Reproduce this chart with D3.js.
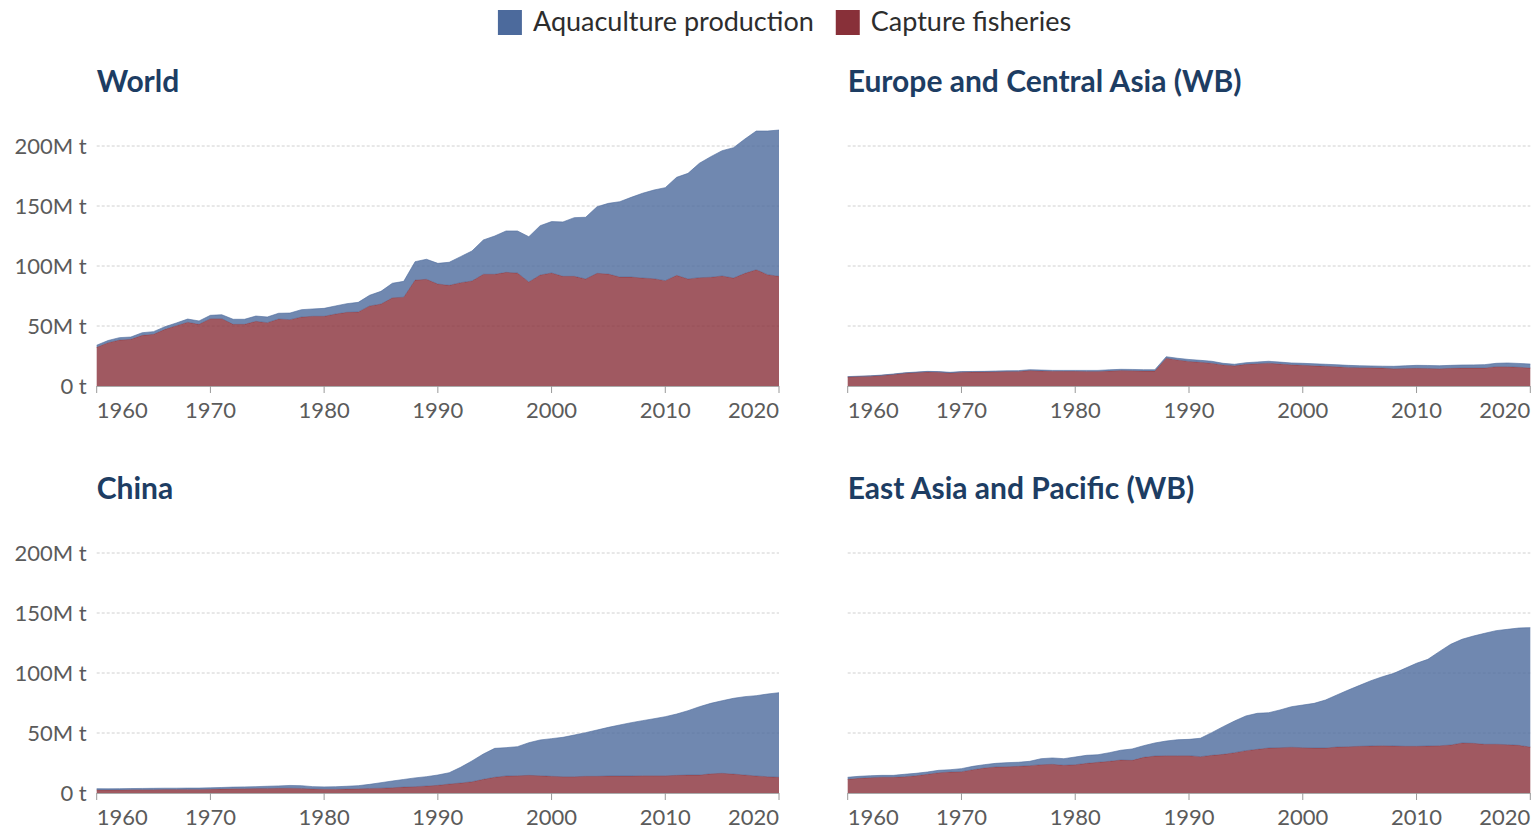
<!DOCTYPE html>
<html>
<head>
<meta charset="utf-8">
<script src="https://cdn.jsdelivr.net/npm/d3@7"></script>
<style>
  body { margin: 0; background: #fff; font-family: Lato, "Noto Sans", sans-serif; }
</style>
</head>
<body>
<div id="canvas"></div>
<script>
// years 1960..2020
const years = d3.range(1960, 2021);

const yTicks = [0, 50, 100, 150, 200];
const xTicks = [1960, 1970, 1980, 1990, 2000, 2010, 2020];

const seriesNames = ["Capture fisheries", "Aquaculture production"];
const legendOrder = ["Aquaculture production", "Capture fisheries"];
const colors = {"Aquaculture production": "#4c6a9c", "Capture fisheries": "#883039"};

// million tonnes
const worldCapture = [
  32.2, 36.1, 38.3, 38.9, 42.2, 43.1, 47.2, 50.3, 53.1, 51.4,
  56.1, 56.1, 51.4, 51.4, 53.9, 52.8, 55.8, 55.3, 57.5, 58.1,
  58.1, 60.0, 61.4, 61.7, 66.7, 68.3, 73.5, 74.0, 88.3, 88.9,
  85.0, 83.9, 86.1, 87.5, 93.1, 93.1, 94.7, 94.2, 86.7, 92.5,
  94.2, 91.4, 91.4, 89.2, 93.9, 93.3, 90.8, 90.8, 90.0, 89.4,
  87.8, 92.2, 89.2, 90.3, 90.6, 91.7, 90.0, 93.9, 96.9, 92.8,
  91.4];
const worldAqua = [
  1.8, 1.8, 2.0, 1.9, 2.2, 2.2, 2.2, 2.2, 2.7, 2.8,
  2.8, 3.3, 4.2, 4.2, 4.4, 4.7, 4.8, 5.5, 6.1, 6.1,
  6.6, 6.7, 7.2, 8.0, 8.9, 10.6, 12.1, 13.2, 15.3, 16.7,
  17.2, 19.2, 21.7, 25.0, 28.6, 31.9, 34.5, 35.0, 37.7, 41.1,
  42.8, 45.3, 48.9, 51.4, 55.5, 58.9, 62.8, 66.4, 70.6, 73.9,
  77.5, 81.7, 88.0, 95.3, 100.5, 104.4, 108.6, 111.9, 115.6, 119.7,
  121.9];

const europeCapture = [
  7.5, 7.9, 8.2, 8.8, 9.6, 10.6, 11.2, 11.7, 11.5, 10.9,
  11.5, 11.6, 11.7, 11.9, 12.1, 12.1, 12.9, 12.6, 12.3, 12.2,
  12.2, 12.1, 12.1, 12.5, 12.9, 12.8, 12.5, 12.4, 23.2, 21.7,
  20.5, 19.8, 19.0, 17.6, 16.8, 18.1, 18.6, 19.0, 18.3, 17.7,
  17.3, 16.8, 16.4, 16.0, 15.5, 15.3, 15.2, 14.9, 14.4, 14.6,
  14.7, 14.6, 14.4, 14.7, 15.0, 15.0, 15.0, 16.1, 16.1, 15.6,
  15.0];
const europeAqua = [
  0.3, 0.3, 0.3, 0.3, 0.4, 0.4, 0.4, 0.5, 0.5, 0.5,
  0.5, 0.5, 0.5, 0.6, 0.6, 0.7, 0.7, 0.7, 0.7, 0.8,
  0.8, 0.9, 0.9, 1.0, 1.0, 1.0, 1.1, 1.2, 1.2, 1.4,
  1.6, 1.6, 1.6, 1.3, 1.3, 1.3, 1.4, 1.6, 1.6, 1.5,
  1.6, 1.7, 1.7, 1.7, 1.7, 1.6, 1.5, 1.6, 2.0, 2.2,
  2.5, 2.5, 2.5, 2.5, 2.5, 2.6, 2.8, 2.8, 3.1, 3.2,
  3.3];

const chinaCapture = [
  2.6, 2.5, 2.6, 2.7, 2.8, 2.8, 2.9, 2.9, 3.0, 3.0,
  3.1, 3.3, 3.5, 3.6, 3.7, 3.8, 3.9, 4.0, 3.8, 3.4,
  3.2, 3.2, 3.3, 3.5, 3.8, 4.0, 4.4, 4.9, 5.3, 5.8,
  6.4, 7.5, 8.3, 9.4, 11.4, 13.1, 14.2, 14.4, 14.7, 14.4,
  13.9, 13.6, 13.6, 13.9, 13.9, 14.2, 14.2, 14.2, 14.4, 14.4,
  14.4, 14.7, 15.0, 15.0, 16.0, 16.4, 15.8, 15.0, 14.2, 13.6,
  13.1];
const chinaAqua = [
  1.0, 1.0, 1.0, 1.0, 1.0, 1.1, 1.1, 1.1, 1.1, 1.1,
  1.2, 1.3, 1.4, 1.5, 1.6, 1.8, 2.0, 2.3, 2.3, 1.9,
  1.9, 2.0, 2.3, 2.6, 3.4, 4.6, 5.6, 6.4, 7.3, 7.8,
  8.6, 9.4, 13.1, 17.3, 21.1, 24.1, 23.6, 24.2, 27.2, 29.8,
  31.4, 32.8, 34.7, 36.4, 38.6, 40.5, 42.5, 44.4, 45.9, 47.5,
  49.2, 51.1, 53.6, 56.9, 58.7, 60.5, 63.1, 65.3, 66.9, 68.9,
  70.5];

const eastAsiaCapture = [
  11.4, 12.2, 12.8, 13.1, 13.1, 13.6, 14.4, 15.6, 16.9, 17.5,
  17.8, 19.4, 20.8, 21.7, 21.9, 22.2, 22.8, 23.6, 23.9, 23.1,
  23.6, 24.7, 25.6, 26.4, 27.5, 27.2, 29.7, 30.8, 31.1, 31.1,
  31.1, 30.3, 31.4, 32.2, 33.6, 35.3, 36.4, 37.5, 37.8, 38.1,
  37.8, 37.5, 37.5, 38.3, 38.6, 38.9, 39.2, 39.4, 39.2, 38.9,
  38.9, 39.2, 39.4, 40.0, 41.7, 41.4, 40.6, 40.6, 40.3, 39.7,
  38.3];
const eastAsiaAqua = [
  1.7, 1.7, 1.6, 1.6, 1.6, 2.0, 2.0, 1.9, 2.0, 1.9,
  2.5, 2.8, 2.8, 3.0, 3.4, 3.4, 3.6, 5.0, 5.3, 5.5,
  6.4, 6.7, 6.3, 7.2, 8.1, 9.5, 9.7, 10.9, 12.2, 13.3,
  13.6, 15.3, 18.9, 23.1, 26.4, 28.9, 30.0, 29.4, 31.4, 33.8,
  35.5, 37.2, 40.0, 43.4, 47.2, 50.8, 54.4, 57.5, 60.5, 65.0,
  69.2, 72.2, 78.4, 83.9, 86.4, 89.4, 92.5, 94.7, 96.1, 97.8,
  99.5];

const panels = [
  {title: "World", capture: worldCapture, aqua: worldAqua, col: 0, row: 0},
  {title: "Europe and Central Asia (WB)", capture: europeCapture, aqua: europeAqua, col: 1, row: 0},
  {title: "China", capture: chinaCapture, aqua: chinaAqua, col: 0, row: 1},
  {title: "East Asia and Pacific (WB)", capture: eastAsiaCapture, aqua: eastAsiaAqua, col: 1, row: 1}
];

const W = 1535, H = 831;
const colX = [[96.7, 779], [847.7, 1530.3]];
const rowY = [386, 793];
const pxPerM = 1.2;

const svg = d3.select("#canvas")
  .append("svg")
    .attr("width", W)
    .attr("height", H)
    .style("font-family", "Lato, 'Noto Sans', sans-serif");

// legend
const legend = svg.append("g");
let lx = 0;
legendOrder.forEach(name => {
  const g = legend.append("g").attr("transform", `translate(${lx},0)`);
  g.append("rect")
    .attr("x", 0).attr("y", 10)
    .attr("width", 24).attr("height", 25)
    .attr("fill", colors[name]);
  const t = g.append("text")
    .attr("x", 35).attr("y", 31)
    .attr("font-size", 27)
    .attr("fill", "#2d2d2d")
    .text(name);
  lx += 35 + t.node().getComputedTextLength() + 22;
});
const legendW = lx - 22;
legend.attr("transform", `translate(${(W - legendW) / 2 + 17},0)`);

const fmt = d => d === 0 ? "0 t" : d + "M t";

panels.forEach(p => {
  const [x0, x1] = colX[p.col];
  const base = rowY[p.row];
  const x = d3.scaleLinear().domain([1960, 2020]).range([x0, x1]);
  const y = d3.scaleLinear().domain([0, 200]).range([base, base - 200 * pxPerM]);

  const g = svg.append("g");

  g.append("text")
    .attr("x", x0)
    .attr("y", base - 294)
    .attr("font-size", 30)
    .attr("font-weight", 700)
    .attr("fill", "#1d3d63")
    .text(p.title);

  // grid
  g.selectAll(".grid")
    .data(yTicks.filter(d => d > 0))
    .enter().append("line")
      .attr("x1", x0).attr("x2", x1)
      .attr("y1", d => y(d)).attr("y2", d => y(d))
      .attr("stroke", "#d0d0d0")
      .attr("stroke-width", 1)
      .attr("stroke-dasharray", "3,2");

  if (p.col === 0) {
    g.selectAll(".ylab")
      .data(yTicks)
      .enter().append("text")
        .attr("x", x0 - 10)
        .attr("y", d => y(d))
        .attr("dy", "0.35em")
        .attr("text-anchor", "end")
        .attr("font-size", 22)
        .attr("fill", "#5b5b5b")
        .text(fmt);
  }

  const rows = years.map((yr, i) => ({year: yr, "Capture fisheries": p.capture[i], "Aquaculture production": p.aqua[i]}));
  const stacked = d3.stack().keys(seriesNames)(rows);

  const area = d3.area()
    .x(d => x(d.data.year))
    .y0(d => y(d[0]))
    .y1(d => y(d[1]));
  const line = d3.line()
    .x(d => x(d.data.year))
    .y(d => y(d[1]));

  stacked.forEach(s => {
    g.append("path")
      .datum(s)
      .attr("d", area)
      .attr("fill", colors[s.key])
      .attr("fill-opacity", 0.8);
    g.append("path")
      .datum(s)
      .attr("d", line)
      .attr("fill", "none")
      .attr("stroke", colors[s.key])
      .attr("stroke-opacity", 0.6)
      .attr("stroke-width", 1);
  });

  // x axis
  g.append("line")
    .attr("x1", x0).attr("x2", x1)
    .attr("y1", base + 0.5).attr("y2", base + 0.5)
    .attr("stroke", "#aaa");
  g.selectAll(".tick")
    .data(xTicks)
    .enter().append("line")
      .attr("x1", d => x(d)).attr("x2", d => x(d))
      .attr("y1", base).attr("y2", base + 7)
      .attr("stroke", "#999");
  g.selectAll(".xlab")
    .data(xTicks)
    .enter().append("text")
      .attr("x", d => x(d))
      .attr("y", base + 32)
      .attr("text-anchor", (d, i) => i === 0 ? "start" : (i === xTicks.length - 1 ? "end" : "middle"))
      .attr("font-size", 22)
      .attr("fill", "#5b5b5b")
      .text(d => d);
});
</script>
</body>
</html>
